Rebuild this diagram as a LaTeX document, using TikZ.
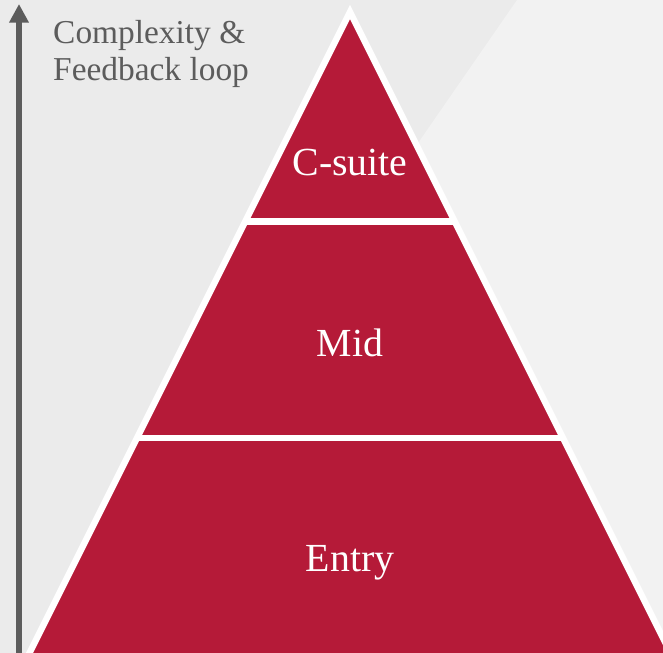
\documentclass[tikz,border=0pt]{standalone}
\usepackage{fontspec}
\setmainfont{Liberation Serif}
\usetikzlibrary{arrows.meta}
\definecolor{crimson}{HTML}{B51A38}
\definecolor{bgdark}{HTML}{EBEBEB}
\definecolor{bglight}{HTML}{F2F2F2}
\definecolor{axisgray}{HTML}{5C5C5C}

\begin{document}
\begin{tikzpicture}[x=0.03cm,y=-0.03cm,tier/.style={fill=crimson,draw=white,line width=5.5pt,line join=miter},divider/.style={white,line width=5.5pt},tier label/.style={text=white,font=\fontsize{34}{38}\selectfont}]
			
			\useasboundingbox (0,0) rectangle (663,653);
			\clip (0,0) rectangle (663,653);
			\fill[bgdark] (0,0) rectangle (663,653);
			\fill[bglight] (517,0) -- (663,0) -- (663,653) -- (400,653) -- (351,240) -- cycle;
			
			% pyramid, base runs off the page
			\coordinate (apex) at (350,12);
			\filldraw[tier] (apex) -- (679,670) -- (21,670) -- cycle;
			\draw[divider] (244,221.5) -- (456,221.5);
			\draw[divider] (135,438) -- (565,438);
			
			\node[tier label] (csuite) at (350,163) {C-suite};
			\node[tier label] (mid) at (350,343) {Mid};
			\node[tier label] (entry) at (350,563) {Entry};
			
			\coordinate (low) at (19,660);
			\coordinate (high) at (19,4);
			\draw[axisgray,line width=5pt,-{Triangle[width=16pt,length=16pt]}] (low) -- (high);
			\node[anchor=north west,align=left,text=axisgray,font=\fontsize{28.5}{31.5}\selectfont,inner sep=0pt] (axis label) at (53,20) {Complexity \&\\Feedback loop};
			\end{tikzpicture}
\end{document}
